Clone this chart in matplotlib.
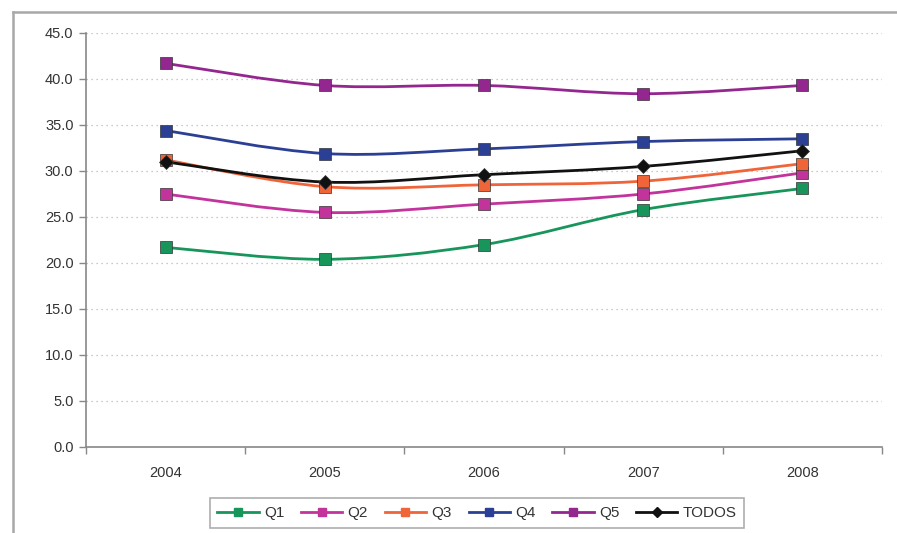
import numpy as np
import matplotlib.pyplot as plt
from matplotlib.path import Path
from matplotlib.patches import PathPatch
from matplotlib.lines import Line2D

plt.rcParams['font.family'] = ['Liberation Sans', 'DejaVu Sans']

# años y valores por quintil
years = ['2004', '2005', '2006', '2007', '2008']
q1 = [21.7, 20.4, 22.0, 25.8, 28.1]
q2 = [27.5, 25.5, 26.4, 27.5, 29.8]
q3 = [31.2, 28.3, 28.5, 28.9, 30.8]
q4 = [34.4, 31.9, 32.4, 33.2, 33.5]
q5 = [41.7, 39.3, 39.3, 38.4, 39.3]
todos = [31.0, 28.8, 29.6, 30.5, 32.2]

series = [
    ('Q1', q1, '#17955a', 's'),
    ('Q2', q2, '#c2339c', 's'),
    ('Q3', q3, '#f0643a', 's'),
    ('Q4', q4, '#2b3f95', 's'),
    ('Q5', q5, '#94278f', 's'),
    ('TODOS', todos, '#111111', 'D'),
]


def smooth_path(x, y):
    # curva suavizada tipo Excel (Bezier cubica, Catmull-Rom)
    pts = np.column_stack([x, y]).astype(float)
    ext = np.vstack([pts[0], pts, pts[-1]])
    verts = [pts[0]]
    codes = [Path.MOVETO]
    for i in range(len(pts) - 1):
        p0, p1, p2, p3 = ext[i], ext[i + 1], ext[i + 2], ext[i + 3]
        c1 = p1 + (p2 - p0) / 6.0
        c2 = p2 - (p3 - p1) / 6.0
        verts += [c1, c2, p2]
        codes += [Path.CURVE4] * 3
    return Path(verts, codes)


fig = plt.figure(figsize=(8.97, 5.33), dpi=100)
ax = fig.add_axes([86 / 897, 1 - 447 / 533, (882 - 86) / 897, (447 - 33) / 533])

# marco exterior
fig.add_artist(Line2D([13 / 897, 13 / 897], [0, 1 - 12 / 533], transform=fig.transFigure,
                      color='#a8a8a8', lw=1.8))
fig.add_artist(Line2D([13 / 897, 1], [1 - 12 / 533, 1 - 12 / 533], transform=fig.transFigure,
                      color='#a8a8a8', lw=1.8))

x = np.arange(len(years))
handles = []
for name, vals, color, mk in series:
    ax.add_patch(PathPatch(smooth_path(x, vals), facecolor='none', edgecolor=color,
                           lw=2.0, zorder=3))
    ms = 8 if mk == 's' else 7.5
    ax.plot(x, vals, linestyle='none', marker=mk, markersize=ms, color=color,
            markeredgecolor='#333333', markeredgewidth=0.5, zorder=4)
    handles.append(Line2D([], [], color=color, lw=2.0, marker=mk, markersize=5.5,
                          markeredgecolor=color, label=name))

ax.set_xlim(-0.5, len(years) - 0.5)
ax.set_ylim(0, 45)
ax.set_yticks(np.arange(0, 45.1, 5))
ax.set_yticklabels([f'{v:.1f}' for v in np.arange(0, 45.1, 5)])
ax.set_xticks(x)
ax.set_xticklabels(years)
ax.set_xticks(np.arange(-0.5, len(years)), minor=True)
ax.tick_params(axis='x', which='major', length=0, pad=14, labelsize=10.5, labelcolor='#333333')
ax.tick_params(axis='x', which='minor', length=5, color='#888888', width=1)
ax.tick_params(axis='y', length=5, color='#888888', width=1, labelsize=10.5,
               labelcolor='#333333', pad=4)

for v in np.arange(5, 45.1, 5):
    ax.axhline(v, color='#b8b8b8', lw=0.9, ls=(0, (1, 3)), zorder=1)

for s in ['top', 'right']:
    ax.spines[s].set_visible(False)
for s in ['left', 'bottom']:
    ax.spines[s].set_color('#888888')
    ax.spines[s].set_linewidth(1.2)

leg = fig.legend(handles=handles, ncol=6, loc='center', bbox_to_anchor=(477 / 897, 1 - 513 / 533),
                 fontsize=11, frameon=True, fancybox=False, edgecolor='#999999',
                 handlelength=2.7, handletextpad=0.35, columnspacing=1.1, borderpad=0.5)
leg.get_frame().set_linewidth(1.2)
for t in leg.get_texts():
    t.set_color('#333333')

fig.savefig('out.png', dpi=100)
